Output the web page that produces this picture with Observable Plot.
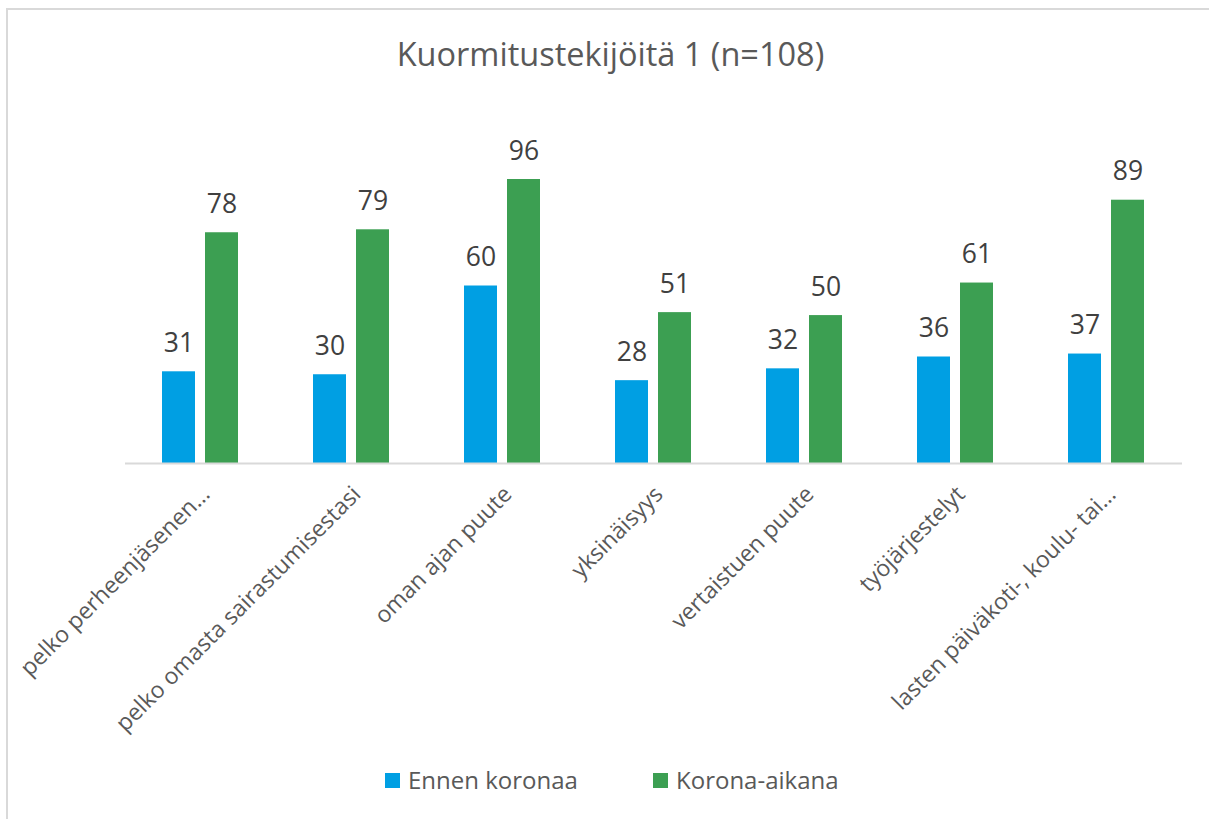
<!DOCTYPE html>
<html><head><meta charset="utf-8">
<script src="https://cdn.jsdelivr.net/npm/d3@7"></script>
<script src="https://cdn.jsdelivr.net/npm/@observablehq/plot@0.6"></script>
<style>
body{margin:0;background:#fff;font-family:"Open Sans",sans-serif;}
#frame{position:absolute;left:6px;top:8px;width:1300px;height:900px;border-left:2px solid #d9d9d9;border-top:2px solid #d9d9d9;box-sizing:border-box;}
#title{position:absolute;left:0;width:1209px;top:34px;padding-left:12px;box-sizing:border-box;text-align:center;font-size:32.5px;color:#595959;line-height:40px;}
#chart{position:absolute;left:0;top:90px;}
.leg{position:absolute;top:765px;display:flex;align-items:center;font-size:24px;color:#595959;line-height:30px;}
.sw{width:15px;height:15px;margin-right:8px;}
</style>
</head><body>
<div id="frame"></div>
<div id="title">Kuormitustekijöitä 1 (n=108)</div>
<div id="chart"></div>
<div id="legend"></div>
<script>
const categories = ["pelko perheenjäsenen…","pelko omasta sairastumisestasi","oman ajan puute","yksinäisyys","vertaistuen puute","työjärjestelyt","lasten päiväkoti-, koulu- tai…"];
const series = ["Ennen koronaa","Korona-aikana"];
const ennen = [31,30,60,28,32,36,37];
const korona = [78,79,96,51,50,61,89];
const colors = ["#009fe3","#3c9f52"];

const data = categories.flatMap((c,i)=>[
  {cat:c, series:series[0], value:ennen[i]},
  {cat:c, series:series[1], value:korona[i]}
]);

const chart = Plot.plot({
  width:1209, height:663,
  marginTop:18, marginBottom:290, marginLeft:123, marginRight:26,
  fx:{domain:categories, padding:0, label:null, axis:null},
  x:{domain:series, axis:null, paddingInner:0.23, paddingOuter:0.855},
  y:{domain:[0,120], axis:null},
  color:{domain:series, range:colors},
  style:{fontFamily:"Open Sans", background:"transparent"},
  marks:[
    Plot.barY(data,{fx:"cat", x:"series", y:"value", fill:"series"}),
    Plot.ruleY([0],{stroke:"#d9d9d9", strokeWidth:2}),
    Plot.text(data,{fx:"cat", x:"series", y:"value", text:d=>String(d.value), lineAnchor:"bottom", dy:-20, fontSize:26.5, fill:"#404040"}),
    Plot.axisFx({anchor:"bottom", tickRotate:-45, tickSize:0, tickPadding:4, fontSize:23, fill:"#595959", label:null, dx:5, dy:23})
  ]
});
document.getElementById("chart").appendChild(chart);

const legend = document.getElementById("legend");
const legX = [385, 653];
series.forEach((s,i)=>{
  const d = document.createElement("div");
  d.className = "leg";
  d.style.left = legX[i] + "px";
  d.innerHTML = `<div class="sw" style="background:${colors[i]}"></div><span>${s}</span>`;
  legend.appendChild(d);
});
</script>
</body></html>
